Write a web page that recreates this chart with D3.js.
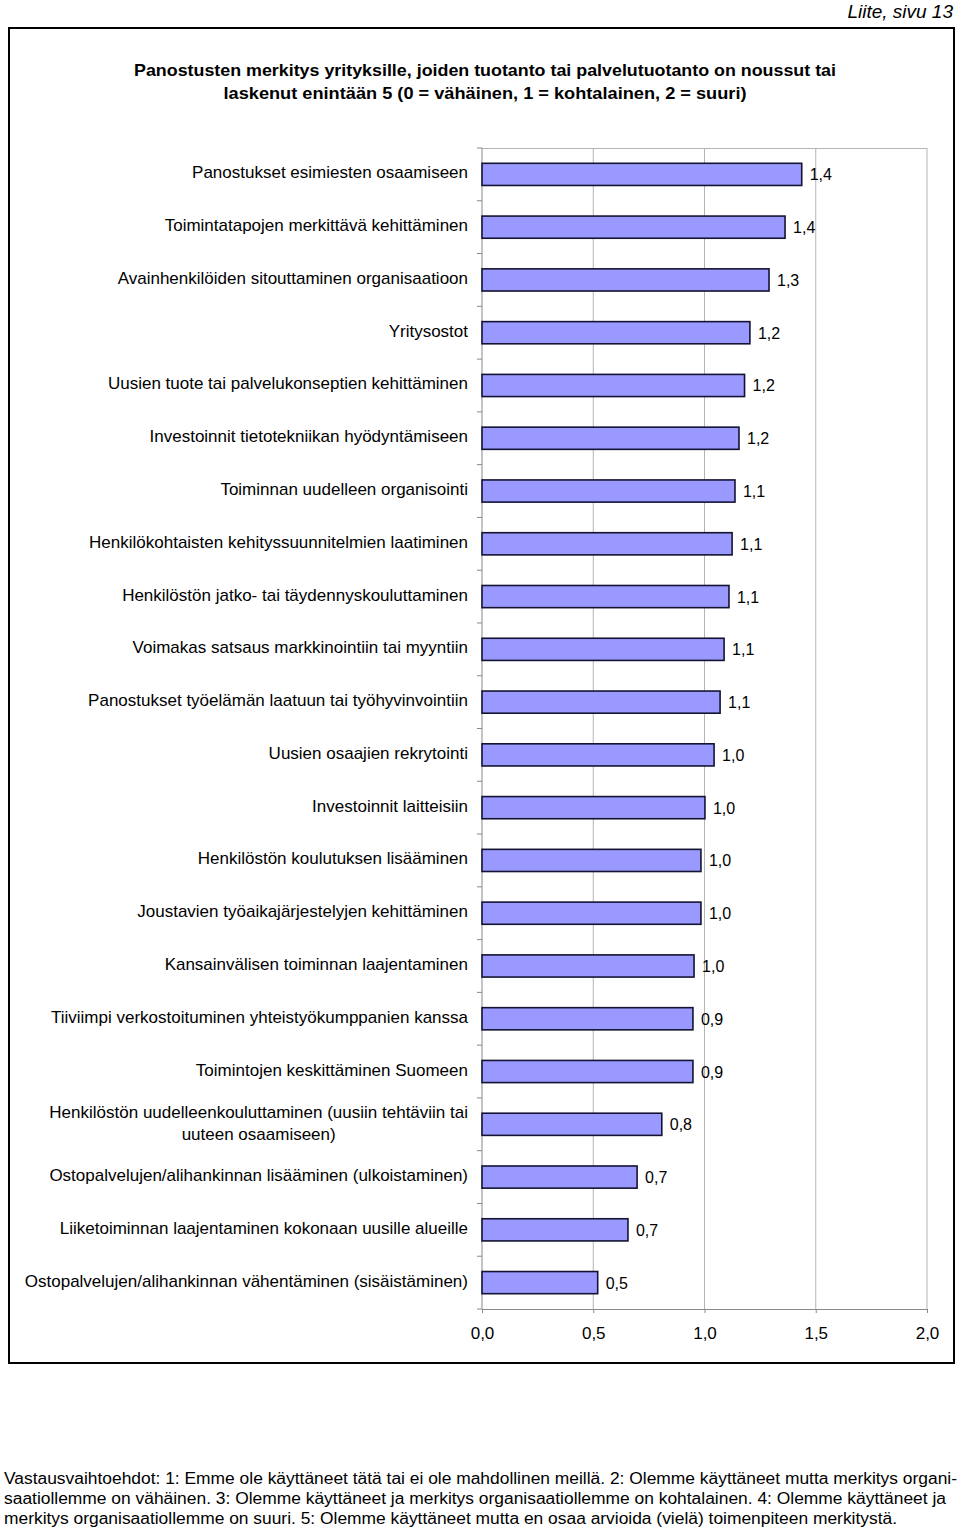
<!DOCTYPE html>
<html><head><meta charset="utf-8">
<script src="https://cdn.jsdelivr.net/npm/d3@7"></script>
<style>body{margin:0;background:#fff}svg{display:block;font-family:"Liberation Sans",Arial,sans-serif}</style>
</head><body><svg id="c" width="960" height="1529"></svg>
<script>
const categories = [
 "Panostukset esimiesten osaamiseen",
 "Toimintatapojen merkittävä kehittäminen",
 "Avainhenkilöiden sitouttaminen organisaatioon",
 "Yritysostot",
 "Uusien tuote tai palvelukonseptien kehittäminen",
 "Investoinnit tietotekniikan hyödyntämiseen",
 "Toiminnan uudelleen organisointi",
 "Henkilökohtaisten kehityssuunnitelmien laatiminen",
 "Henkilöstön jatko- tai täydennyskouluttaminen",
 "Voimakas satsaus markkinointiin tai myyntiin",
 "Panostukset työelämän laatuun tai työhyvinvointiin",
 "Uusien osaajien rekrytointi",
 "Investoinnit laitteisiin",
 "Henkilöstön koulutuksen lisääminen",
 "Joustavien työaikajärjestelyjen kehittäminen",
 "Kansainvälisen toiminnan laajentaminen",
 "Tiiviimpi verkostoituminen yhteistyökumppanien kanssa",
 "Toimintojen keskittäminen Suomeen",
 "Henkilöstön uudelleenkouluttaminen (uusiin tehtäviin tai|uuteen osaamiseen)",
 "Ostopalvelujen/alihankinnan lisääminen (ulkoistaminen)",
 "Liiketoiminnan laajentaminen kokonaan uusille alueille",
 "Ostopalvelujen/alihankinnan vähentäminen (sisäistäminen)"
];
const values = [1.437,1.362,1.29,1.204,1.18,1.155,1.137,1.124,1.11,1.088,1.07,1.043,1.002,0.984,0.984,0.953,0.948,0.948,0.808,0.697,0.656,0.52];
const xTicks = [0,0.5,1,1.5,2];
const titleLines = ["Panostusten merkitys yrityksille, joiden tuotanto tai palvelutuotanto on noussut tai","laskenut enintään 5 (0 = vähäinen, 1 = kohtalainen, 2 = suuri)"];
const footLines = ["Vastausvaihtoehdot: 1: Emme ole käyttäneet tätä tai ei ole mahdollinen meillä. 2: Olemme käyttäneet mutta merkitys organi-",
 "saatiollemme on vähäinen. 3: Olemme käyttäneet ja merkitys organisaatiollemme on kohtalainen. 4: Olemme käyttäneet ja",
 "merkitys organisaatiollemme on suuri. 5: Olemme käyttäneet mutta en osaa arvioida (vielä) toimenpiteen merkitystä."];
const pageLabel = "Liite, sivu 13";

const svg = d3.select("#c");
const fmt = v => d3.format(".1f")(v).replace(".", ",");
const L = 482, R = 927, T = 148, B = 1309;
const x = d3.scaleLinear().domain([0,2]).range([L,R]);
const y = d3.scaleBand().domain(categories).range([T,B]).paddingInner(0.58).paddingOuter(0.29);
const yb = d3.scaleBand().domain(categories).range([T,B]);

// page label
svg.append("text").attr("x",953).attr("y",18).attr("text-anchor","end")
  .attr("font-style","italic").attr("font-size",19).text(pageLabel);
// outer frame
svg.append("rect").attr("x",9).attr("y",28).attr("width",945).attr("height",1335)
  .attr("fill","none").attr("stroke","#000").attr("stroke-width",2);
// title
svg.append("g").selectAll("text").data(titleLines).join("text")
  .attr("x",485).attr("y",(d,i)=>76+i*23).attr("text-anchor","middle")
  .attr("font-weight","bold").attr("font-size",17).attr("textLength",(d,i)=>i?523:702)
  .attr("lengthAdjust","spacingAndGlyphs").text(d=>d);

// grid
svg.append("g").selectAll("line").data(xTicks.slice(1)).join("line")
  .attr("x1",d=>x(d)).attr("x2",d=>x(d)).attr("y1",T).attr("y2",B)
  .attr("stroke","#b4b4b4").attr("stroke-width",1);
svg.append("line").attr("x1",L).attr("x2",R).attr("y1",T+0.5).attr("y2",T+0.5).attr("stroke","#b4b4b4");

// x axis
const xa = svg.append("g").attr("transform",`translate(0,${B})`)
  .call(d3.axisBottom(x).tickValues(xTicks).tickFormat(fmt).tickSize(4).tickPadding(14));
xa.select(".domain").attr("stroke","#888");
xa.selectAll(".tick line").attr("stroke","#888");
xa.selectAll("text").attr("font-size",17).attr("font-family","Liberation Sans, Arial, sans-serif").attr("fill","#000");

// y axis line with band ticks
svg.append("line").attr("x1",L).attr("x2",L).attr("y1",T).attr("y2",B).attr("stroke","#888");
svg.append("g").selectAll("line").data(categories.concat([null])).join("line")
  .attr("x1",L-5).attr("x2",L).attr("y1",(d,i)=> T + i*yb.bandwidth()).attr("y2",(d,i)=>T + i*yb.bandwidth())
  .attr("stroke","#888");

// bars
svg.append("g").selectAll("rect").data(values).join("rect")
  .attr("x",x(0)).attr("y",(d,i)=>y(categories[i]))
  .attr("width",d=>x(d)-x(0)).attr("height",y.bandwidth())
  .attr("fill","#9999ff").attr("stroke","#141432").attr("stroke-width",1.6);

// value labels
svg.append("g").selectAll("text").data(values).join("text")
  .attr("x",d=>x(d)+8).attr("y",(d,i)=>y(categories[i])+y.bandwidth()/2+6)
  .attr("font-size",16).text(d=>fmt(d));

// category labels
const cg = svg.append("g");
categories.forEach((c,i)=>{
  const lines = c.split("|");
  const cy = y(c)+y.bandwidth()/2;
  if(lines.length===1){
    cg.append("text").attr("x",468).attr("y",cy+4).attr("text-anchor","end").attr("font-size",17).text(c);
  } else {
    const t0 = cg.append("text").attr("font-size",17).text(lines[0]);
    const w = t0.node().getComputedTextLength();
    const cx = 468 - w/2;
    t0.attr("x",cx).attr("y",cy-11+5).attr("text-anchor","middle");
    cg.append("text").attr("font-size",17).attr("x",cx).attr("y",cy+11+5).attr("text-anchor","middle").text(lines[1]);
  }
});

// footer
svg.append("g").selectAll("text").data(footLines).join("text")
  .attr("x",4).attr("y",(d,i)=>1484+i*20).attr("font-size",16)
  .attr("textLength",(d,i)=>[953,942,893][i]).attr("lengthAdjust","spacingAndGlyphs").text(d=>d);
</script></body></html>
